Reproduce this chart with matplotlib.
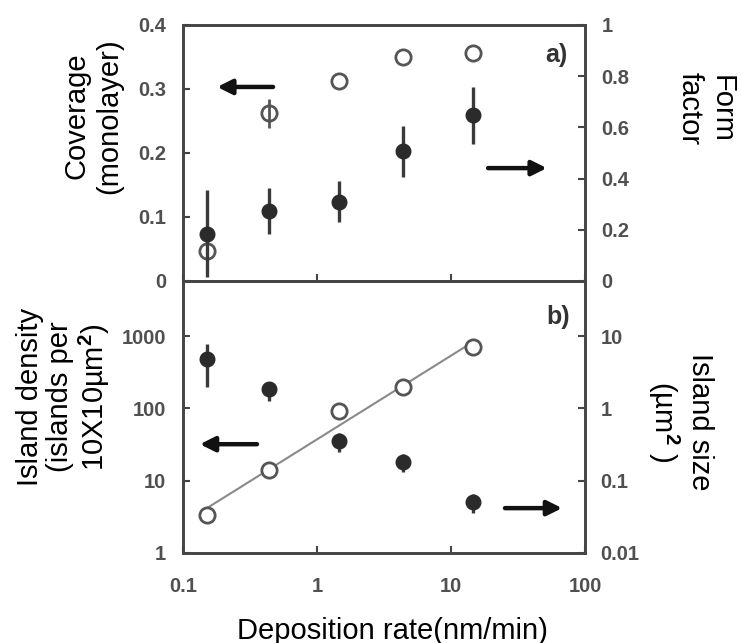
import numpy as np
import matplotlib
matplotlib.use("Agg")
import matplotlib.pyplot as plt
from matplotlib.ticker import FixedLocator, FixedFormatter, NullLocator

# ---- data ----
rate = [0.15, 0.44, 1.46, 4.4, 14.6]
coverage = [0.047, 0.262, 0.312, 0.350, 0.356]
coverage_err = [0.0, 0.023, 0.0, 0.0, 0.0]
form_factor = [0.184, 0.275, 0.31, 0.506, 0.647]
form_factor_err = [0.17, 0.09, 0.08, 0.10, 0.11]
island_density = [3.4, 14.2, 91, 195, 700]
island_size = [4.8, 1.84, 0.36, 0.184, 0.051]
island_size_err_lo = [2.84, 0.59, 0.11, 0.054, 0.015]
island_size_err_hi = [3.0, 0.5, 0.10, 0.053, 0.015]

x_ticks = [0.1, 1, 10, 100]
x_ticklabels = ["0.1", "1", "10", "100"]
cov_ticks = [0, 0.1, 0.2, 0.3, 0.4]
cov_ticklabels = ["0", "0.1", "0.2", "0.3", "0.4"]
ff_ticks = [0, 0.2, 0.4, 0.6, 0.8, 1.0]
ff_ticklabels = ["0", "0.2", "0.4", "0.6", "0.8", "1"]
dens_ticks = [1, 10, 100, 1000]
dens_ticklabels = ["1", "10", "100", "1000"]
size_ticks = [0.01, 0.1, 1, 10]
size_ticklabels = ["0.01", "0.1", "1", "10"]

plt.rcParams["font.family"] = ["Liberation Sans", "DejaVu Sans"]
plt.rcParams["font.weight"] = "bold"
plt.rcParams["mathtext.fontset"] = "custom"
plt.rcParams["mathtext.rm"] = "Liberation Sans"
plt.rcParams["mathtext.it"] = "Liberation Sans:italic"
plt.rcParams["mathtext.bf"] = "Liberation Sans:bold"

W, H = 741, 643
fig = plt.figure(figsize=(W / 100, H / 100), dpi=100)
L, R = 183, 585
ax1 = fig.add_axes([L / W, 1 - 281 / H, (R - L) / W, 256 / H])
ax2 = fig.add_axes([L / W, 1 - 553 / H, (R - L) / W, 272 / H])

spine_c = "#454545"
tick_c = "#505050"
LABEL_FS = 21
TICK_FS = 14.5

def style(ax):
    for s in ax.spines.values():
        s.set_linewidth(1.9)
        s.set_color(spine_c)
    ax.xaxis.set_minor_locator(NullLocator())
    ax.yaxis.set_minor_locator(NullLocator())
    ax.tick_params(which="both", direction="in", length=5, width=1.5,
                   color=spine_c, labelsize=TICK_FS, labelcolor=tick_c)

# ---------- panel a ----------
ax1.set_xscale("log")
ax1.set_xlim(0.1, 100)
ax1.set_ylim(0, 0.4)
ax1.xaxis.set_major_locator(FixedLocator(x_ticks))
ax1.yaxis.set_major_locator(FixedLocator(cov_ticks))
ax1.yaxis.set_major_formatter(FixedFormatter(cov_ticklabels))
style(ax1)
ax1.tick_params(axis="x", labelbottom=False)
ax1.tick_params(axis="y", pad=12)

ax1r = ax1.twinx()
ax1r.set_ylim(0, 1)
ax1r.yaxis.set_major_locator(FixedLocator(ff_ticks))
ax1r.yaxis.set_major_formatter(FixedFormatter(ff_ticklabels))
style(ax1r)
ax1r.tick_params(axis="y", pad=12)

ax1.errorbar(rate, coverage, yerr=coverage_err, fmt="o", ms=11, mfc="none",
             mec="#555555", mew=2, ecolor="#555555", elinewidth=2, capsize=0, zorder=3)
ax1r.errorbar(rate, form_factor, yerr=form_factor_err, fmt="o", ms=10.5,
              color="#2b2b2b", ecolor="#3a3a3a", elinewidth=2.4, capsize=0, zorder=3)

arrow_kw = dict(arrowstyle="-|>", color="#111111", lw=3.2, mutation_scale=22,
                shrinkA=0, shrinkB=0)
ax1r.annotate("", xy=(0.085, 0.758), xytext=(0.224, 0.758),
              xycoords="axes fraction", arrowprops=arrow_kw)
ax1r.annotate("", xy=(0.905, 0.441), xytext=(0.759, 0.441),
              xycoords="axes fraction", arrowprops=arrow_kw)
ax1r.text(0.93, 0.883, "a)", transform=ax1r.transAxes, ha="center", va="center",
          fontsize=18, fontweight="bold", color="#333333")

ax1.set_ylabel("Coverage\n(monolayer)", fontsize=LABEL_FS, fontweight="normal",
               color="black", ha="center", va="center", multialignment="center")
ax1.yaxis.set_label_coords(-0.224, 0.645)
ax1r.set_ylabel("Form\nfactor", fontsize=LABEL_FS, fontweight="normal",
                color="black", rotation=270, ha="center", va="center",
                multialignment="center")
ax1r.yaxis.set_label_coords(1.300, 0.672)

# ---------- panel b ----------
ax2.set_xscale("log")
ax2.set_yscale("log")
ax2.set_xlim(0.1, 100)
ax2.set_ylim(1, 5800)
ax2.xaxis.set_major_locator(FixedLocator(x_ticks))
ax2.xaxis.set_major_formatter(FixedFormatter(x_ticklabels))
ax2.yaxis.set_major_locator(FixedLocator(dens_ticks))
ax2.yaxis.set_major_formatter(FixedFormatter(dens_ticklabels))
style(ax2)
ax2.tick_params(axis="x", pad=17)
ax2.tick_params(axis="y", pad=12)

ax2r = ax2.twinx()
ax2r.set_yscale("log")
ax2r.set_ylim(0.01, 58)
ax2r.yaxis.set_major_locator(FixedLocator(size_ticks))
ax2r.yaxis.set_major_formatter(FixedFormatter(size_ticklabels))
style(ax2r)
ax2r.tick_params(axis="y", pad=11)

lx = np.log10(rate)
ly = np.log10(island_density)
slope, icpt = np.polyfit(lx, ly, 1)
fx = np.array([rate[0], rate[-1]])
ax2.plot(fx, 10 ** (icpt + slope * np.log10(fx)), color="#8a8a8a", lw=1.5, zorder=2)
ax2.plot(rate, island_density, "o", ms=11, mfc="white", mec="#555555", mew=2, zorder=3)
ax2r.errorbar(rate, island_size, yerr=[island_size_err_lo, island_size_err_hi],
              fmt="o", ms=10.5, color="#2b2b2b", ecolor="#3a3a3a", elinewidth=2.4,
              capsize=0, zorder=3)

ax2r.annotate("", xy=(0.042, 0.40), xytext=(0.184, 0.40),
              xycoords="axes fraction", arrowprops=arrow_kw)
ax2r.annotate("", xy=(0.943, 0.165), xytext=(0.801, 0.165),
              xycoords="axes fraction", arrowprops=arrow_kw)
ax2r.text(0.933, 0.866, "b)", transform=ax2r.transAxes, ha="center", va="center",
          fontsize=18, fontweight="bold", color="#333333")

ax2.set_ylabel("Island density\n(islands per\n10X10µm$^{2}$)", fontsize=LABEL_FS,
               fontweight="normal", color="black", ha="center", va="center",
               multialignment="center", linespacing=1.1)
ax2.yaxis.set_label_coords(-0.296, 0.574)
ax2r.set_ylabel("Island size\n(µm$^{2}$ )", fontsize=LABEL_FS, fontweight="normal",
                color="black", rotation=270, ha="center", va="center",
                multialignment="center")
ax2r.yaxis.set_label_coords(1.236, 0.482)

ax2.set_xlabel("Deposition rate(nm/min)", fontsize=LABEL_FS, fontweight="normal",
               color="black", ha="center", va="center")
ax2.xaxis.set_label_coords(0.52, -0.285)

fig.savefig("out.png", dpi=100)
